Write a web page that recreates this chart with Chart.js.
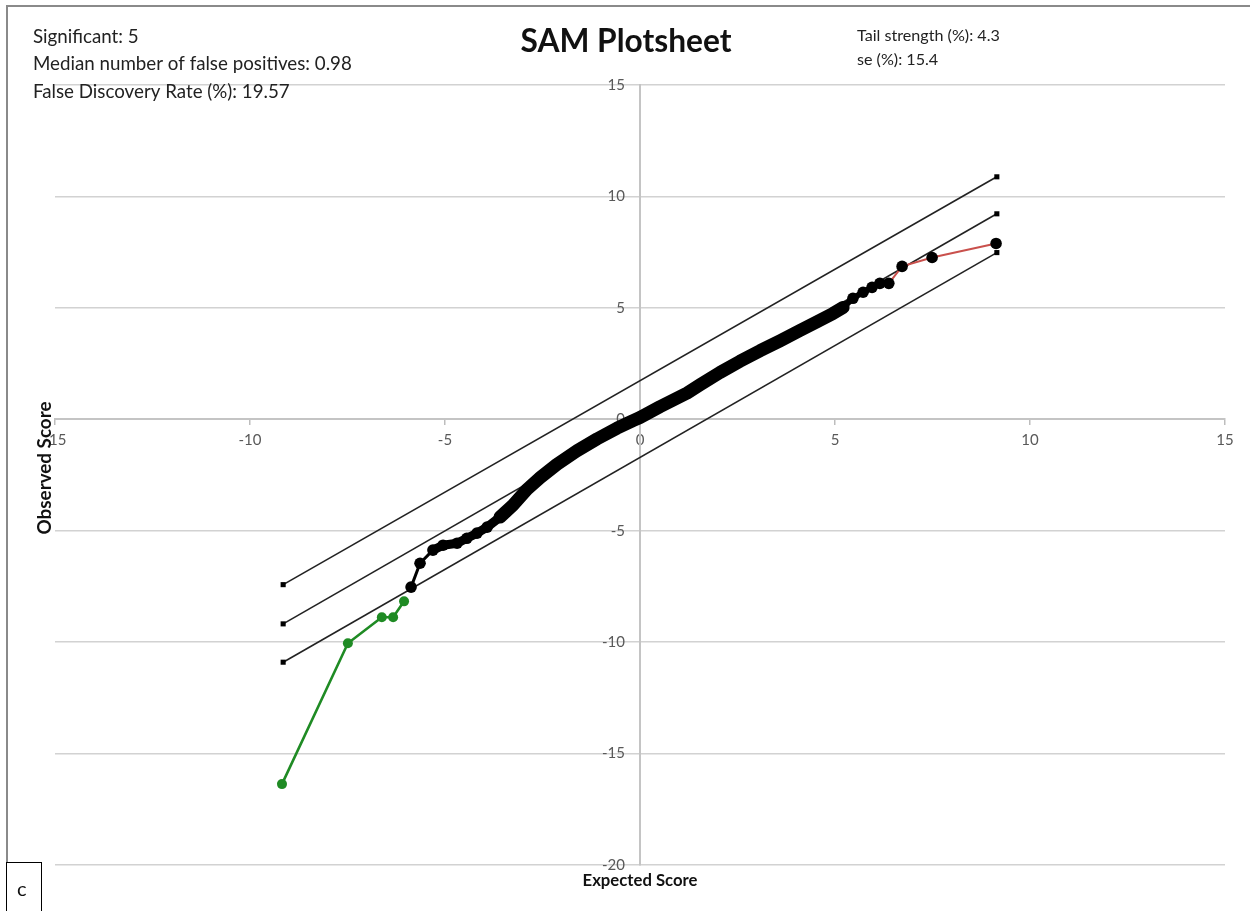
<!DOCTYPE html>
<html>
<head>
<meta charset="utf-8">
<script src="https://cdn.jsdelivr.net/npm/chart.js@4.4.1/dist/chart.umd.min.js"></script>
<style>
html,body{margin:0;padding:0;background:#fff;overflow:hidden}
#wrap{position:relative;width:1250px;height:911px}
</style>
</head>
<body>
<div id="wrap"><canvas id="c" width="1250" height="911"></canvas></div>
<script>
// ---- data ----
const xTicks = [-15, -10, -5, 0, 5, 10, 15];
const yTicks = [-20, -15, -10, -5, 0, 5, 10, 15];

const cutoffX = [-9.15, 9.15];
const upperCutoffY = [-7.42, 10.88];
const middleY = [-9.18, 9.22];
const lowerCutoffY = [-10.9, 7.48];

const observedX = [-5.87,-5.64,-5.31,-5.05,-4.69,-4.44,-4.18,-3.92,-3.59,-3.26,-2.90,-2.56,-2.13,-1.62,-1.10,-0.59,-0.18,0.00,0.51,1.21,1.54,2.05,2.56,3.08,3.59,4.10,4.54,4.95,5.21,5.46,5.72,5.95,6.15,6.38,6.72,7.49,9.13];
const observedY = [-7.53,-6.46,-5.87,-5.65,-5.56,-5.34,-5.11,-4.84,-4.39,-3.86,-3.15,-2.62,-2.02,-1.42,-0.88,-0.40,-0.06,0.08,0.56,1.18,1.55,2.10,2.60,3.08,3.52,3.98,4.38,4.75,5.02,5.43,5.70,5.92,6.10,6.10,6.86,7.26,7.89];

const sigNegX = [-9.18, -7.49, -6.62, -6.33, -6.05];
const sigNegY = [-16.37, -10.05, -8.88, -8.88, -8.17];

const sigPosX = [6.38, 6.72, 7.49, 9.13];
const sigPosY = [6.10, 6.86, 7.26, 7.89];

const chartTitle = 'SAM Plotsheet';
const statsLeft = ['Significant: 5', 'Median number of false positives: 0.98', 'False Discovery Rate (%): 19.57'];
const statsRight = ['Tail strength (%): 4.3', 'se (%): 15.4'];
const xTitle = 'Expected Score';
const yTitle = 'Observed Score';
const panelLabel = 'c';

// ---- helpers ----
const pts = (xs, ys) => xs.map((x, i) => ({x: x, y: ys[i]}));
const FAMILY = 'Lato, "Open Sans", "DejaVu Sans", sans-serif';
const mctx = document.createElement('canvas').getContext('2d');
function fitSize(text, weight, width) {
  mctx.font = weight + ' 100px ' + FAMILY;
  return 100 * width / mctx.measureText(text).width;
}

const deco = {
  id: 'deco',
  beforeDraw(chart) {
    const ctx = chart.ctx;
    ctx.save();
    ctx.fillStyle = '#fff';
    ctx.fillRect(0, 0, chart.width, chart.height);
    ctx.strokeStyle = '#8a8a8a';
    ctx.lineWidth = 2;
    ctx.beginPath();
    ctx.moveTo(7, chart.height);
    ctx.lineTo(7, 6);
    ctx.lineTo(chart.width, 6);
    ctx.stroke();
    ctx.restore();
  },
  afterDraw(chart) {
    const ctx = chart.ctx;
    ctx.save();
    ctx.textBaseline = 'middle';
    // title
    let s = fitSize(chartTitle, 'bold', 211);
    ctx.font = 'bold ' + s + 'px ' + FAMILY;
    ctx.fillStyle = '#111';
    ctx.textAlign = 'center';
    ctx.fillText(chartTitle, 626, 42);
    // left stats
    s = fitSize(statsLeft[1], 'normal', 319);
    ctx.font = s + 'px ' + FAMILY;
    ctx.fillStyle = '#222';
    ctx.textAlign = 'left';
    const ly = [37, 64, 92];
    statsLeft.forEach((t, i) => ctx.fillText(t, 33, ly[i]));
    // right stats
    s = fitSize(statsRight[0], 'normal', 143);
    ctx.font = s + 'px ' + FAMILY;
    const ry = [36, 60];
    statsRight.forEach((t, i) => ctx.fillText(t, 857, ry[i]));
    // axis titles
    ctx.fillStyle = '#111';
    s = fitSize(xTitle, 'bold', 115);
    ctx.font = 'bold ' + s + 'px ' + FAMILY;
    ctx.textAlign = 'center';
    ctx.fillText(xTitle, 640, 881);
    s = fitSize(yTitle, 'bold', 133);
    ctx.font = 'bold ' + s + 'px ' + FAMILY;
    ctx.translate(45, 468);
    ctx.rotate(-Math.PI / 2);
    ctx.fillText(yTitle, 0, 0);
    ctx.setTransform(1, 0, 0, 1, 0, 0);
    // panel label box
    ctx.fillStyle = '#fff';
    ctx.fillRect(6, 862, 35, 49);
    ctx.strokeStyle = '#000';
    ctx.lineWidth = 1;
    ctx.strokeRect(6.5, 862.5, 35, 60);
    ctx.fillStyle = '#111';
    ctx.font = '20px ' + FAMILY;
    ctx.textAlign = 'left';
    ctx.fillText(panelLabel, 17, 890);
    ctx.restore();
  }
};

const thickW = ctx => {
  const a = ctx.p0.parsed.x, b = ctx.p1.parsed.x;
  if (a >= 6.3) return 0;
  if (a >= -3.7 && b <= 5.3) return 13;
  if (a >= -5.35 && b <= -3.5) return 9;
  if (a >= 5.2) return 6;
  return 3;
};
const tailColor = ctx => (ctx.p0.parsed.x >= 6.3 ? 'rgba(0,0,0,0)' : undefined);

const lineStyle = {
  showLine: true,
  borderColor: '#222',
  borderWidth: 1.6,
  pointStyle: 'rect',
  pointRadius: 3.6,
  pointBackgroundColor: '#000',
  pointBorderColor: '#000',
  pointBorderWidth: 0
};

new Chart(document.getElementById('c'), {
  type: 'scatter',
  data: {
    datasets: [
      {
        label: 'Observed',
        data: pts(observedX, observedY),
        showLine: true,
        borderColor: '#000',
        borderWidth: 3,
        borderJoinStyle: 'round',
        borderCapStyle: 'round',
        pointRadius: 5.8,
        pointBackgroundColor: '#000',
        pointBorderColor: '#000',
        pointBorderWidth: 0,
        segment: { borderWidth: thickW, borderColor: tailColor }
      },
      {
        label: 'Significant positive',
        data: pts(sigPosX, sigPosY),
        showLine: true,
        borderColor: '#c9504c',
        borderWidth: 2,
        pointRadius: 0
      },
      {
        label: 'Significant negative',
        data: pts(sigNegX, sigNegY),
        showLine: true,
        borderColor: '#1f8b24',
        borderWidth: 2.6,
        pointRadius: 5,
        pointBackgroundColor: '#1f8b24',
        pointBorderColor: '#1f8b24',
        pointBorderWidth: 0
      },
      Object.assign({label: 'Upper cutoff', data: pts(cutoffX, upperCutoffY)}, lineStyle),
      Object.assign({label: 'Expected', data: pts(cutoffX, middleY)}, lineStyle),
      Object.assign({label: 'Lower cutoff', data: pts(cutoffX, lowerCutoffY)}, lineStyle)
    ]
  },
  options: {
    responsive: false,
    animation: false,
    devicePixelRatio: 1,
    layout: { padding: { left: 55, right: 25, top: 85, bottom: 46 } },
    plugins: { legend: { display: false }, tooltip: { enabled: false }, title: { display: false } },
    scales: {
      x: {
        type: 'linear',
        min: -15, max: 15,
        position: { y: 0 },
        afterBuildTicks: sc => { sc.ticks = xTicks.map(v => ({value: v})); },
        grid: { drawOnChartArea: false, drawTicks: true, tickLength: 5, color: '#bdbdbd', lineWidth: 1.5 },
        border: { color: '#c4c4c4', width: 2 },
        ticks: { padding: 7, color: '#595959', font: { family: FAMILY, size: 15 }, autoSkip: false, maxRotation: 0 }
      },
      y: {
        type: 'linear',
        min: -20, max: 15,
        position: { x: 0 },
        afterBuildTicks: sc => { sc.ticks = yTicks.map(v => ({value: v})); },
        grid: { color: '#d2d2d2', lineWidth: 1.6, drawTicks: false },
        border: { color: '#c4c4c4', width: 2 },
        ticks: { color: '#595959', font: { family: FAMILY, size: 15 }, autoSkip: false,
                 callback: v => v + '\u2002\u2002' }
      }
    }
  },
  plugins: [deco]
});
</script>
</body>
</html>
